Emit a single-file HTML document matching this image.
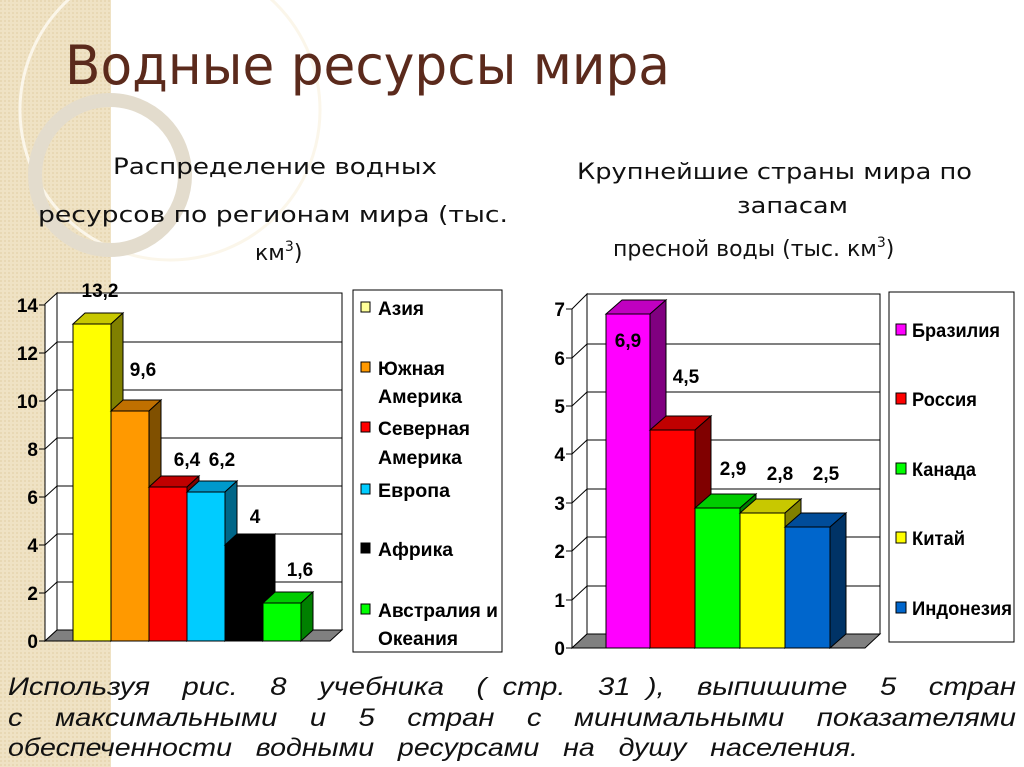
<!DOCTYPE html>
<html><head><meta charset="utf-8"><style>
html,body{margin:0;padding:0;background:#fff}
svg{display:block}
.t{font-family:"Liberation Sans",sans-serif;font-weight:bold;font-size:19px;fill:#000}
.n{font-family:"Liberation Sans",sans-serif;font-weight:bold;font-size:19px;fill:#000}
.s{font-family:"DejaVu Sans","Liberation Sans",sans-serif;font-size:22px;fill:#111}
.b{font-family:"Liberation Sans",sans-serif;font-style:italic;font-size:25px;fill:#111;white-space:pre}
</style></head><body>
<svg width="1024" height="767" viewBox="0 0 1024 767" xmlns="http://www.w3.org/2000/svg">
<defs><pattern id="p" width="4" height="4" patternUnits="userSpaceOnUse"><rect width="4" height="4" fill="#efe2c4"/><rect width="2" height="2" fill="#e8d8b4"/></pattern></defs>
<rect width="1024" height="767" fill="#fff"/>
<rect x="0" y="0" width="111" height="767" fill="url(#p)"/>
<circle cx="170" cy="110" r="150" fill="none" stroke="#fbf6ea" stroke-width="3"/>
<circle cx="110" cy="175" r="75" fill="none" stroke="#e3dccd" stroke-width="14"/>
<text x="65" y="84" font-family="DejaVu Sans,sans-serif" font-size="54" fill="#5b2a1c" textLength="605" lengthAdjust="spacingAndGlyphs">Водные ресурсы мира</text>
<g class="s">
<text x="113" y="174" textLength="324" lengthAdjust="spacingAndGlyphs">Распределение водных</text>
<text x="38" y="222" textLength="470" lengthAdjust="spacingAndGlyphs">ресурсов по регионам мира (тыс.</text>
<text x="255" y="260">км<tspan font-size="14" dy="-9">3</tspan><tspan dy="9">)</tspan></text>
<text x="577" y="179" textLength="395" lengthAdjust="spacingAndGlyphs">Крупнейшие страны мира по</text>
<text x="737" y="213" textLength="111" lengthAdjust="spacingAndGlyphs">запасам</text>
<text x="613" y="256">пресной воды (тыс. км<tspan font-size="14" dy="-9">3</tspan><tspan dy="9">)</tspan></text>
</g>

<!-- left chart -->
<g stroke="#000" stroke-width="1">
<rect x="57" y="293" width="285" height="337" fill="#fff"/>
<polygon points="45,304 57,293 57,630 45,641" fill="#fff"/>
<g fill="none">
<path d="M57,582H342M57,534H342M57,486H342M57,438H342M57,390H342M57,342H342"/>
<path d="M45,593L57,582M45,545L57,534M45,497L57,486M45,449L57,438M45,401L57,390M45,353L57,342"/>
</g>
<polygon points="45,641 57,630 342,630 330,641" fill="#808080"/>
<line x1="45" y1="304" x2="45" y2="641"/>
<path d="M39,641H45M39,593H45M39,545H45M39,497H45M39,449H45M39,401H45M39,353H45M39,305H45"/>
<line x1="45" y1="641" x2="330" y2="641"/>
</g>
<g stroke="#000" stroke-width="1">
<rect x="73" y="324" width="38" height="317" fill="#ffff00"/><polygon points="73,324 85,313 123,313 111,324" fill="#c8c800"/><polygon points="111,324 123,313 123,630 111,641" fill="#808000"/>
<rect x="111" y="411" width="38" height="230" fill="#ff9900"/><polygon points="111,411 123,400 161,400 149,411" fill="#c07000"/><polygon points="149,411 161,400 161,630 149,641" fill="#805000"/>
<rect x="149" y="487" width="38" height="154" fill="#ff0000"/><polygon points="149,487 161,476 199,476 187,487" fill="#c00000"/><polygon points="187,487 199,476 199,630 187,641" fill="#800000"/>
<rect x="187" y="492" width="38" height="149" fill="#00ccff"/><polygon points="187,492 199,481 237,481 225,492" fill="#0099cc"/><polygon points="225,492 237,481 237,630 225,641" fill="#006688"/>
<rect x="225" y="545" width="38" height="96" fill="#000"/><polygon points="225,545 237,534 275,534 263,545" fill="#000"/><polygon points="263,545 275,534 275,630 263,641" fill="#000"/>
<rect x="263" y="603" width="38" height="38" fill="#00ff00"/><polygon points="263,603 275,592 313,592 301,603" fill="#00cc00"/><polygon points="301,603 313,592 313,630 301,641" fill="#008000"/>
</g>
<g class="n" text-anchor="end">
<text x="38" y="648">0</text><text x="38" y="600">2</text><text x="38" y="552">4</text><text x="38" y="504">6</text><text x="38" y="456">8</text><text x="38" y="408">10</text><text x="38" y="360">12</text><text x="38" y="312">14</text>
</g>
<g class="n" text-anchor="middle">
<text x="100" y="297">13,2</text><text x="143" y="376">9,6</text><text x="187" y="466">6,4</text><text x="222" y="466">6,2</text><text x="255" y="523">4</text><text x="300" y="576">1,6</text>
</g>
<rect x="353" y="290" width="149" height="362" fill="#fff" stroke="#000"/>
<g stroke="#000" stroke-width="1">
<rect x="361" y="302" width="9" height="10" fill="#ffff99"/>
<rect x="361" y="362" width="9" height="10" fill="#ff9900"/>
<rect x="361" y="422" width="9" height="10" fill="#ff0000"/>
<rect x="361" y="484" width="9" height="10" fill="#00ccff"/>
<rect x="361" y="543" width="9" height="10" fill="#000"/>
<rect x="361" y="604" width="9" height="10" fill="#00ff00"/>
</g>
<g class="t">
<text x="378" y="315" textLength="46" lengthAdjust="spacingAndGlyphs">Азия</text>
<text x="378" y="375" textLength="67" lengthAdjust="spacingAndGlyphs">Южная</text>
<text x="378" y="403" textLength="84" lengthAdjust="spacingAndGlyphs">Америка</text>
<text x="378" y="435" textLength="92" lengthAdjust="spacingAndGlyphs">Северная</text>
<text x="378" y="464" textLength="84" lengthAdjust="spacingAndGlyphs">Америка</text>
<text x="378" y="497" textLength="72" lengthAdjust="spacingAndGlyphs">Европа</text>
<text x="378" y="556" textLength="75" lengthAdjust="spacingAndGlyphs">Африка</text>
<text x="378" y="617" textLength="120" lengthAdjust="spacingAndGlyphs">Австралия и</text>
<text x="378" y="645" textLength="80" lengthAdjust="spacingAndGlyphs">Океания</text>
</g>

<!-- right chart -->
<g stroke="#000" stroke-width="1">
<rect x="587" y="294" width="293" height="340" fill="#fff"/>
<polygon points="572,309 587,294 587,634 572,648" fill="#fff"/>
<g fill="none">
<path d="M587,586H880M587,537H880M587,489H880M587,440H880M587,392H880M587,344H880"/>
<path d="M572,600L587,586M572,551L587,537M572,503L587,489M572,454L587,440M572,406L587,392M572,358L587,344"/>
</g>
<polygon points="572,648 587,634 880,634 865,648" fill="#808080"/>
<line x1="572" y1="309" x2="572" y2="648"/>
<path d="M566,648H572M566,600H572M566,551H572M566,503H572M566,454H572M566,406H572M566,358H572M566,309H572"/>
<line x1="572" y1="648" x2="865" y2="648"/>
</g>
<g stroke="#000" stroke-width="1">
<rect x="606" y="314" width="44" height="334" fill="#ff00ff"/><polygon points="606,314 622,300 666,300 650,314" fill="#c000c0"/><polygon points="650,314 666,300 666,634 650,648" fill="#800080"/>
<rect x="650" y="430" width="45" height="218" fill="#ff0000"/><polygon points="650,430 666,416 711,416 695,430" fill="#c00000"/><polygon points="695,430 711,416 711,634 695,648" fill="#800000"/>
<rect x="695" y="508" width="45" height="140" fill="#00ff00"/><polygon points="695,508 711,494 756,494 740,508" fill="#00cc00"/><polygon points="740,508 756,494 756,634 740,648" fill="#008000"/>
<rect x="740" y="513" width="45" height="135" fill="#ffff00"/><polygon points="740,513 756,499 801,499 785,513" fill="#c8c800"/><polygon points="785,513 801,499 801,634 785,648" fill="#808000"/>
<rect x="785" y="527" width="45" height="121" fill="#0066cc"/><polygon points="785,527 801,513 846,513 830,527" fill="#004c99"/><polygon points="830,527 846,513 846,634 830,648" fill="#003366"/>
</g>
<g class="n" text-anchor="end">
<text x="565" y="655">0</text><text x="565" y="607">1</text><text x="565" y="558">2</text><text x="565" y="510">3</text><text x="565" y="461">4</text><text x="565" y="413">5</text><text x="565" y="365">6</text><text x="565" y="316">7</text>
</g>
<g class="n" text-anchor="middle">
<text x="628" y="347">6,9</text><text x="686" y="383">4,5</text><text x="733" y="475">2,9</text><text x="780" y="480">2,8</text><text x="826" y="480">2,5</text>
</g>
<rect x="889" y="292" width="125" height="350" fill="#fff" stroke="#000"/>
<g stroke="#000" stroke-width="1">
<rect x="896" y="324" width="10" height="11" fill="#ff00ff"/>
<rect x="896" y="393" width="10" height="11" fill="#ff0000"/>
<rect x="896" y="463" width="10" height="11" fill="#00ff00"/>
<rect x="896" y="532" width="10" height="11" fill="#ffff00"/>
<rect x="896" y="602" width="10" height="11" fill="#0066cc"/>
</g>
<g class="t">
<text x="912" y="337" textLength="88" lengthAdjust="spacingAndGlyphs">Бразилия</text>
<text x="912" y="406" textLength="65" lengthAdjust="spacingAndGlyphs">Россия</text>
<text x="912" y="476" textLength="64" lengthAdjust="spacingAndGlyphs">Канада</text>
<text x="912" y="545" textLength="53" lengthAdjust="spacingAndGlyphs">Китай</text>
<text x="912" y="615" textLength="100" lengthAdjust="spacingAndGlyphs">Индонезия</text>
</g>

<text class="b" x="8" y="695" textLength="1008" lengthAdjust="spacingAndGlyphs" xml:space="preserve">Используя    рис.    8    учебника    (  стр.    31  ),    выпишите    5    стран</text>
<text class="b" x="8" y="726" textLength="1008" lengthAdjust="spacingAndGlyphs" xml:space="preserve">с    максимальными    и    5    стран    с    минимальными    показателями</text>
<text class="b" x="8" y="756" textLength="850" lengthAdjust="spacingAndGlyphs" xml:space="preserve">обеспеченности   водными   ресурсами   на   душу   населения.</text>
</svg>
</body></html>
